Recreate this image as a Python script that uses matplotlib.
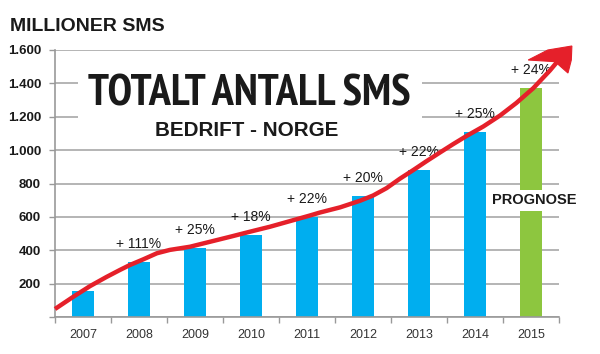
import matplotlib
matplotlib.use("Agg")
import matplotlib.pyplot as plt
from matplotlib import font_manager as fm
from matplotlib.patches import Rectangle, Polygon
from matplotlib.ticker import FixedLocator, FuncFormatter

years = ["2007", "2008", "2009", "2010", "2011", "2012", "2013", "2014", "2015"]
values = [158, 331, 415, 491, 601, 723, 883, 1110, 1375]
growth = ["", "+ 111%", "+ 25%", "+ 18%", "+ 22%", "+ 20%", "+ 22%", "+ 25%", "+ 24%"]
forecast = [False, False, False, False, False, False, False, False, True]
y_ticks = [0, 200, 400, 600, 800, 1000, 1200, 1400, 1600]

trend_x = [-0.5, -0.17, 0.125, 0.42, 0.66, 0.84, 1.08, 1.32, 1.55, 1.91, 2.27, 2.63,
           2.98, 3.34, 3.70, 4.05, 4.23, 4.59, 4.95, 5.18, 5.42, 5.66, 5.90, 6.14,
           6.38, 6.61, 6.85, 7.15, 7.45, 7.74, 8.04, 8.34, 8.52, 8.64]
trend_y = [48, 122, 185, 240, 282, 312, 346, 382, 402, 421, 451, 481, 511, 541, 575,
           608, 626, 657, 697, 728, 772, 829, 881, 935, 987, 1036, 1085, 1142, 1208,
           1283, 1371, 1478, 1550, 1600]
head_x = [8.73, 8.30, 7.95, 8.43, 8.66, 8.72]
head_y = [1624, 1600, 1540, 1530, 1462, 1540]

BLUE = "#00AEEF"
GREEN = "#8DC63F"
RED = "#E5202A"
GRID = "#A8A8A8"
INK = "#1a1a1a"


def pick_condensed_bold():
    best = None
    for f in fm.fontManager.ttflist:
        fn = (f.fname + " " + f.name).lower()
        st = str(f.stretch).lower()
        cond = ("narrow" in fn or "condensed" in fn or "condensed" in st)
        if not cond:
            continue
        w = f.weight
        if isinstance(w, str):
            w = fm.weight_dict.get(w, 400)
        if w < 600 or w > 800 or f.style != "normal":
            continue
        score = 0
        if "semi" in fn or "semi" in st:
            score += 2
        if "extra" in fn or "ultra" in fn or "extra" in st:
            score += 3
        for i, pref in enumerate(["narrow", "roboto", "noto", "open", "dejavu"]):
            if pref in fn:
                score += i * 0.1
                break
        else:
            score += 1
        if best is None or score < best[0]:
            best = (score, f.fname)
    return best[1] if best else None


cond_file = pick_condensed_bold()
if cond_file:
    title_fp = fm.FontProperties(fname=cond_file)
else:
    title_fp = fm.FontProperties(family="Liberation Sans", weight="bold")
sub_fp = fm.FontProperties(family=["Liberation Sans", "DejaVu Sans"], weight="bold")

fig = plt.figure(figsize=(6.0, 3.54), dpi=100)
ax = fig.add_axes([55 / 600, 1 - 317 / 354, 504 / 600, 267 / 354])

xs = list(range(len(years)))
colors = [GREEN if f else BLUE for f in forecast]
ax.bar(xs, values, width=0.41, color=colors, zorder=2)

ax.set_xlim(-0.5, len(years) - 0.5)
ax.set_ylim(0, 1600)

ax.yaxis.set_major_locator(FixedLocator(y_ticks))
ax.yaxis.set_major_formatter(FuncFormatter(
    lambda v, p: "" if v == 0 else f"{int(v):,}".replace(",", ".")))
ax.grid(axis="y", color=GRID, linewidth=1.2, zorder=1)
ax.set_axisbelow(True)

ax.set_xticks(xs)
ax.set_xticklabels(years)
ax.set_xticks([i - 0.5 for i in range(len(years) + 1)], minor=True)
ax.tick_params(axis="x", which="major", length=0, pad=8.5, labelsize=9, labelcolor="#333333")
ax.tick_params(axis="x", which="minor", length=4, width=1, color="#999999", direction="out")
ax.tick_params(axis="y", which="major", length=4, width=1, color="#999999", pad=6,
               labelsize=9.5, labelcolor=INK)
for lab in ax.get_yticklabels():
    lab.set_fontweight("bold")
for lab in ax.get_xticklabels() + ax.get_yticklabels():
    lab.set_family(["Liberation Sans", "DejaVu Sans"])

for s in ["top", "right"]:
    ax.spines[s].set_visible(False)
for s in ["left", "bottom"]:
    ax.spines[s].set_color("#999999")
    ax.spines[s].set_linewidth(1.2)

# white box behind titles
ax.add_patch(Rectangle((0.046, 0.663), 0.682, 0.292, transform=ax.transAxes,
                       facecolor="white", edgecolor="none", zorder=1.5))

# growth labels
for x, v, g in zip(xs, values, growth):
    if g:
        ax.annotate(g, (x, v), xytext=(0, 10), textcoords="offset points",
                    ha="center", va="baseline", fontsize=10, color=INK,
                    family=["Liberation Sans", "DejaVu Sans"], zorder=4)

# forecast label
for x, f in zip(xs, forecast):
    if f:
        ax.text(x + 0.05, 700, "PROGNOSE", ha="center", va="center", fontsize=10.5,
                fontweight="bold", color=INK,
                family=["Liberation Sans", "DejaVu Sans"], zorder=4,
                bbox=dict(facecolor="white", edgecolor="none", pad=2.5))

# trend arrow
ax.plot(trend_x, trend_y, color=RED, linewidth=3.2, solid_capstyle="butt",
        solid_joinstyle="round", clip_on=False, zorder=5)
ax.add_patch(Polygon(list(zip(head_x, head_y)), closed=True, facecolor=RED,
                     edgecolor=RED, linewidth=0.8, clip_on=False, zorder=5))

# titles
fig.text(10 / 600, 1 - 31 / 354, "MILLIONER SMS", ha="left", va="baseline",
         fontsize=14, fontweight="bold", color=INK,
         family=["Liberation Sans", "DejaVu Sans"])
t1 = fig.text(249 / 600, 1 - 105 / 354, "TOTALT ANTALL SMS", ha="center", va="baseline",
              fontproperties=title_fp.copy(), color=INK)
t2 = fig.text(247 / 600, 1 - 136 / 354, "BEDRIFT - NORGE", ha="center", va="baseline",
              fontproperties=sub_fp.copy(), color=INK)

# fit title sizes to the reference widths (in pixels)
renderer = fig.canvas.get_renderer()
for t, target_w, max_size in [(t1, 322, 34), (t2, 183, 17)]:
    t.set_fontsize(20)
    w = t.get_window_extent(renderer).width
    t.set_fontsize(min(max_size, 20 * target_w / w))

fig.savefig("out.png", dpi=100, facecolor="white")
